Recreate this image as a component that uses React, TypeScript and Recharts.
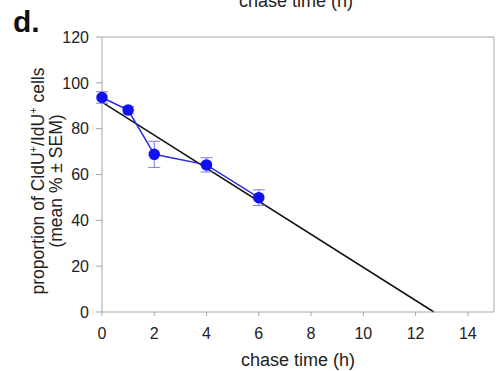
import {
  LineChart, Line, XAxis, YAxis, ErrorBar, ReferenceLine,
} from "recharts";

// chase time (h) vs proportion of CldU+/IdU+ cells
const chaseTimes = [0, 1, 2, 4, 6];
const meanPct = [93.6, 88.1, 68.8, 64.2, 49.9];
const semPct = [2.5, 1.6, 5.7, 3.1, 3.4];

// linear fit endpoints
const fitX = [0, 12.7];
const fitY = [91.6, 0];

const xTicks = [0, 2, 4, 6, 8, 10, 12, 14];
const yTicks = [0, 20, 40, 60, 80, 100, 120];

const measured = chaseTimes.map((t, i) => ({ t, mean: meanPct[i], err: semPct[i] }));
const fit = fitX.map((t, i) => ({ t, fit: fitY[i] }));

const AXIS = "#a6a6a6";
const TEXT = "#222";
const FONT = "'Liberation Sans', Arial, sans-serif";

export default function App() {
  return (
    <div style={{ position: "absolute", left: 0, top: 0, width: 502, height: 371, background: "#fff", fontFamily: FONT, overflow: "hidden" }}>
      {/* label cut off from the panel above */}
      <div style={{ position: "absolute", left: 0, width: 592, top: -9, textAlign: "center", fontSize: 18, color: TEXT }}>
        chase time (h)
      </div>
      <div style={{ position: "absolute", left: 13, top: 5, fontSize: 30, fontWeight: "bold", color: "#111" }}>d.</div>

      <LineChart width={502} height={371} margin={{ top: 37, right: 8, bottom: 0, left: 0 }}>
        <XAxis
          type="number"
          dataKey="t"
          domain={[0, 15]}
          ticks={xTicks}
          allowDuplicatedCategory={false}
          stroke={AXIS}
          tickSize={4}
          tickMargin={12}
          height={59}
          tick={{ fontSize: 16, fill: TEXT, fontFamily: FONT }}
          label={{ value: "chase time (h)", position: "insideBottom", offset: 5, fontSize: 18, fill: TEXT, fontFamily: FONT }}
        />
        <YAxis
          type="number"
          domain={[0, 120]}
          ticks={yTicks}
          stroke={AXIS}
          tickSize={6}
          tickMargin={7}
          width={102}
          tick={{ fontSize: 16, fill: TEXT, fontFamily: FONT }}
        />
        <ReferenceLine y={120} stroke={AXIS} ifOverflow="extendDomain" />
        <ReferenceLine x={15} stroke={AXIS} />
        <Line
          data={fit}
          dataKey="fit"
          stroke="#111"
          strokeWidth={1.5}
          dot={false}
          isAnimationActive={false}
        />
        <Line
          data={measured}
          dataKey="mean"
          stroke="#2a2ae0"
          strokeWidth={1.5}
          dot={{ r: 5, fill: "#1010f0", stroke: "#1010f0" }}
          isAnimationActive={false}
        >
          <ErrorBar dataKey="err" direction="y" width={6} stroke="#7a7af0" strokeWidth={1} />
        </Line>
      </LineChart>

      <div
        style={{
          position: "absolute",
          left: 46.5,
          top: 181,
          transform: "translate(-50%, -50%) rotate(-90deg)",
          whiteSpace: "nowrap",
          textAlign: "center",
          fontSize: 17.5,
          lineHeight: "17.5px",
          color: TEXT,
        }}
      >
        proportion of CldU<sup style={{ fontSize: 11, lineHeight: 0 }}>+</sup>/IdU<sup style={{ fontSize: 11, lineHeight: 0 }}>+</sup> cells
        <br />
        (mean % ± SEM)
      </div>
    </div>
  );
}
